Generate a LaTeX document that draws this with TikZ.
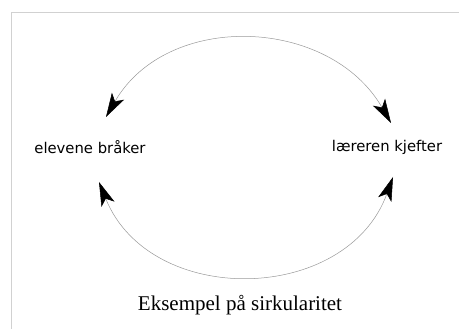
\documentclass[tikz,border=0pt]{standalone}
\usepackage{fontspec}
\setmainfont{Liberation Serif}
\newfontfamily\labelfont{DejaVu Sans}
\usetikzlibrary{arrows.meta}
\tikzset{bighead/.tip={Stealth[color=black,length=24pt,width=14pt,inset=6pt]}}
\begin{document}
\begin{tikzpicture}[line cap=round,line join=round,x=1pt,y=1pt,
  lbl/.style={font=\labelfont\fontsize{14.8}{17}\selectfont,inner sep=0pt},
  loop/.style={draw=gray!80,line width=0.5pt,{bighead}-{bighead}}]
\useasboundingbox (0,0) rectangle (459,329);
\draw[black!18,line width=1pt] (11,0) |- (459,316);
\node[lbl] (elev) at (90,182) {elevene bråker};
\node[lbl] (laerer) at (387,182) {læreren kjefter};
\node[font=\fontsize{21}{25}\selectfont,inner sep=0pt] (cap) at (240,24) {Eksempel på sirkularitet};
\coordinate (elevtop) at ([shift={(16,30)}]elev.center);
\coordinate (laerertop) at ([shift={(4,24)}]laerer.center);
\coordinate (elevbot) at ([shift={(9,-35)}]elev.center);
\coordinate (laererbot) at ([shift={(6,-30)}]laerer.center);
\draw[loop] (elevtop) to[out=60,in=120,looseness=1.1] (laerertop);
\draw[loop] (elevbot) to[out=-68,in=-110,looseness=1.18] (laererbot);
\end{tikzpicture}
\end{document}
